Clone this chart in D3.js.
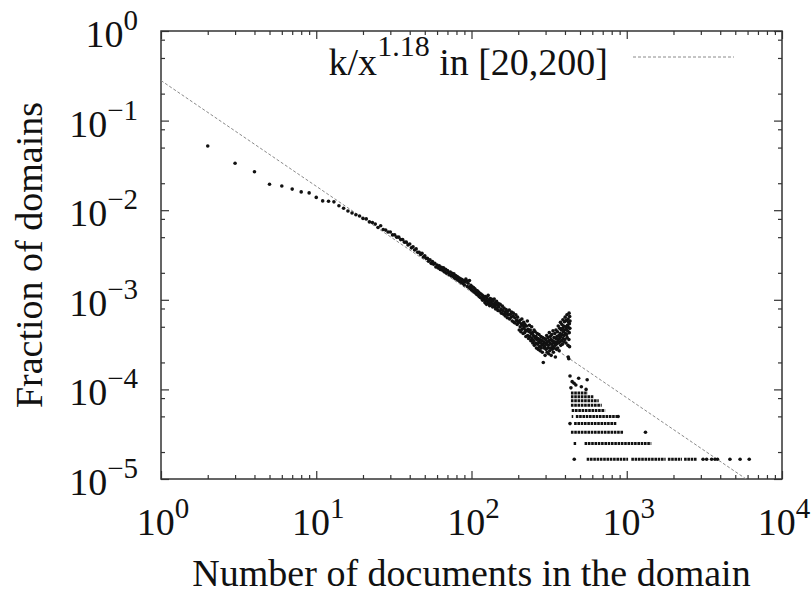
<!DOCTYPE html>
<html>
<head>
<meta charset="utf-8">
<script src="https://cdn.jsdelivr.net/npm/d3@7"></script>
<style>
  body { margin: 0; background: #fff; }
  text { font-family: "Liberation Serif", "Times New Roman", serif; fill: #111; }
</style>
</head>
<body>
<svg id="chart" width="812" height="597"></svg>
<script>
// values, y given as fraction of domains x 10^4
var per10k = 1e-4;

var earlyDocs = [2, 3, 4, 5, 6, 7, 8, 9, 10, 11, 12, 13];
var earlyFrac = [520, 334, 269, 195, 186, 172, 160, 156, 139, 127, 126, 124];

var bandLow = [[14,112],[15,105],[16,98],[17,93],[18,89],[19,86],[20,81],[21,80],[22,74],[23,73],[24,70],[25,64],[26,67],[27,61],[28,60],[29,57],[30,57],[31,53],[32,53],[33,50],[34,50],[35,47],[36,47],[37,44],[38,44],[39,41],[40,42],[41,38],[42,39],[43,36],[44,37],[45,34],[46,34],[47,32],[48,33],[49,30],[50,31],[51,29],[52,29],[53,27],[54,28]];

var bandMid = [[55,25.5],[56,26.8],[57,24.9],[58,25.6],[59,23.2],[60,24.4],[61,22.6],[62,23.9],[63,21.8],[64,23.1],[65,21.4],[66,22.8],[67,20.6],[68,21.9],[69,19.8],[70,21.2],[71,20.1],[72,19.0],[73,20.4],[74,18.6],[75,19.8],[76,18.2],[77,19.5],[78,17.4],[79,18.6],[80,17.1],[81,18.2],[82,16.5],[83,17.6],[84,16.0],[85,17.2],[86,15.6],[87,16.8],[88,15.2],[89,16.3],[90,14.6],[91,15.8],[92,17.0],[93,16.2],[94,14.1],[95,15.3],[96,13.8],[97,16.4],[98,13.4],[99,14.5],[100,12.9],[101,14.0],[102,12.6],[103,13.7],[104,12.2],[105,13.3],[106,11.9],[107,12.8],[108,11.5],[109,12.6],[110,11.3],[111,12.2],[112,10.9],[113,11.8],[114,10.6],[115,11.6],[116,10.4],[117,11.3],[118,9.9],[119,11.0],[120,10.1]];

var bandUpper = [[121,10.6],[122,9.3],[123,10.9],[124,9.8],[125,8.9],[126,10.4],[127,9.6],[128,11.2],[129,9.1],[130,9.9],[131,8.6],[132,10.3],[133,9.4],[134,8.8],[135,10.1],[136,9.0],[137,8.3],[138,9.7],[139,8.9],[140,10.2],[141,8.4],[142,9.2],[143,7.9],[144,8.8],[145,9.6],[146,8.1],[147,8.7],[148,7.6],[149,9.1],[150,8.3],[152,7.5],[153,8.9],[155,7.9],[156,7.1],[158,8.5],[159,7.6],[161,6.9],[162,8.1],[164,7.3],[165,6.6],[167,7.8],[168,7.0],[170,6.3],[171,7.4],[173,6.8],[175,7.7],[176,6.1],[178,6.9],[180,6.4],[181,7.3],[183,5.8],[185,6.6],[186,7.1],[188,5.6],[190,6.3],[191,5.5],[193,6.8],[195,5.9],[197,5.3],[198,6.4],[200,5.7]];

var bandKnee = [[202,5.6],[203,4.6],[205,5.9],[206,5.0],[208,4.4],[209,5.4],[211,6.1],[212,4.7],[214,5.2],[215,4.2],[217,5.6],[218,4.9],[220,4.3],[221,5.3],[223,4.6],[224,3.9],[226,5.1],[227,4.5],[229,5.8],[230,4.0],[232,4.7],[233,3.7],[235,4.4],[236,5.2],[238,3.9],[239,4.6],[241,3.5],[242,4.2],[244,5.0],[245,3.7],[247,4.3],[248,3.3],[250,4.0],[251,3.5],[253,4.6],[254,3.1],[256,3.8],[257,4.4],[259,3.3],[260,3.9],[262,2.9],[263,3.6],[265,4.2],[266,3.2],[268,3.7],[269,2.8],[271,3.4],[272,4.1],[274,3.0],[275,3.6],[277,2.7],[278,3.3],[280,3.9],[281,2.9],[283,3.5],[284,3.1],[286,2.6],[287,3.8],[289,3.2],[290,2.0],[292,3.4],[293,2.9],[295,3.7],[296,3.0],[298,2.4],[299,3.3]];

var bandBump = [[301,3.6],[302,2.8],[304,3.2],[305,4.0],[307,2.6],[308,3.4],[310,2.9],[311,3.8],[313,3.1],[314,2.5],[316,3.5],[317,4.3],[319,2.7],[320,3.3],[322,3.9],[323,2.9],[325,3.6],[326,2.4],[328,3.2],[329,4.1],[331,2.8],[332,3.5],[334,3.0],[335,4.5],[337,2.6],[338,3.3],[340,3.8],[341,2.9],[343,3.4],[344,4.2],[346,3.1],[347,2.3],[349,3.7],[350,4.6],[352,3.2],[353,2.8],[355,3.9],[356,3.4],[358,4.4],[359,2.9],[361,3.6],[362,5.1],[364,3.3],[365,4.0],[367,2.7],[368,3.7],[370,4.8],[371,3.4],[373,4.2],[374,5.6],[376,3.1],[377,3.9],[379,4.6],[380,3.5],[382,5.3],[383,4.1],[385,3.2],[386,4.8],[388,6.0],[389,3.7],[391,4.4],[392,5.1],[394,3.4],[395,4.0],[397,5.7],[398,4.6],[400,3.6],[401,6.4],[403,4.2],[404,5.0],[406,3.3],[407,4.7],[409,5.9],[410,4.1],[412,6.8],[413,3.8],[415,5.2],[416,4.5],[418,3.1],[419,6.1],[420,2.3],[421,4.9],[422,5.6],[423,2.2],[424,3.6],[425,7.1],[426,4.3],[427,5.4],[428,3.0],[429,6.5],[430,4.8],[431,5.8]];

// sparse points below the drop
var tailPoints = [[431,1.41],[490,1.33],[556,1.28],[445,1.22],[458,1.17],[470,1.12],[510,1.07],[437,1.04],[547,1.0],
  [459,0.166],[3100,0.166],[3270,0.166],[3520,0.166],[3700,0.166],[3840,0.166],[4620,0.166],[5370,0.166],[6150,0.166],
  [1320,0.332],[431,0.415],[880,0.498]];

// runs of consecutive counts sharing one level: [level, first, last]
var tailRuns = [[0.166,552,1020],[0.166,1070,1780],[0.166,1840,2270],[0.166,2340,2820],
  [0.249,455,472],[0.249,535,1440],
  [0.332,437,950],
  [0.415,458,860],
  [0.498,442,452],[0.498,470,890],
  [0.581,442,726],
  [0.664,437,690],
  [0.747,437,660],
  [0.830,437,610],
  [0.913,437,560]];

var fitK = 0.28;
var fitExp = 1.18;
var fitLabel = ["k/x", "1.18", " in [20,200]"];

var xTickExps = [0, 1, 2, 3, 4];
var yTickExps = [0, -1, -2, -3, -4, -5];
var xMinorSteps = [2, 3, 4, 5, 6, 7, 8, 9];
var yMinorSteps = [2, 5, 8];

var xTitle = "Number of documents in the domain";
var yTitle = "Fraction of domains";

var svg = d3.select('#chart');
var plotL = 161, plotR = 782, plotT = 31, plotB = 479;

var x = d3.scaleLog().domain([1, 1e4]).range([plotL, plotR]);
var y = d3.scaleLog().domain([1e-5, 1]).range([plotB, plotT]);

var xMajor = xTickExps.map(function(e) { return Math.pow(10, e) });
var yMajor = yTickExps.map(function(e) { return Math.pow(10, e) });
var xMinor = [], yMinor = [];
xTickExps.slice(0, -1).forEach(function(e) {
    xMinorSteps.forEach(function(m) { xMinor.push(m * Math.pow(10, e)) });
});
yTickExps.slice(1).forEach(function(e) {
    yMinorSteps.forEach(function(m) { yMinor.push(m * Math.pow(10, e)) });
});

var tickColor = '#333';
function tickAxis(axis, ty, tx) {
    var g = svg.append('g').attr('transform', 'translate(' + tx + ',' + ty + ')').call(axis);
    g.select('.domain').remove();
    g.selectAll('line').attr('stroke', tickColor).attr('stroke-width', 1.2);
    g.selectAll('text').remove();
}
[[xMajor, 8], [xMinor, 4]].forEach(function(p) {
    tickAxis(d3.axisBottom(x).tickValues(p[0]).tickSize(-p[1]), plotB, 0);
    tickAxis(d3.axisTop(x).tickValues(p[0]).tickSize(-p[1]), plotT, 0);
});
[[yMajor, 8], [yMinor, 4]].forEach(function(p) {
    tickAxis(d3.axisLeft(y).tickValues(p[0]).tickSize(-p[1]), 0, plotL);
    tickAxis(d3.axisRight(y).tickValues(p[0]).tickSize(-p[1]), 0, plotR);
});

svg.append('rect')
    .attr('x', plotL).attr('y', plotT)
    .attr('width', plotR - plotL).attr('height', plotB - plotT)
    .attr('fill', 'none').attr('stroke', tickColor).attr('stroke-width', 1.5);

function powerLabel(t, e) {
    t.append('tspan').text('10');
    t.append('tspan').attr('dy', -17).attr('font-size', 29).text(e < 0 ? '\u2212' + (-e) : e);
}

xTickExps.forEach(function(e) {
    var t = svg.append('text')
        .attr('x', x(Math.pow(10, e)) + 2).attr('y', 535)
        .attr('text-anchor', 'middle').attr('font-size', 38);
    powerLabel(t, e);
});
yTickExps.forEach(function(e) {
    var t = svg.append('text')
        .attr('x', 138).attr('y', y(Math.pow(10, e)) + 16)
        .attr('text-anchor', 'end').attr('font-size', 38);
    powerLabel(t, e);
});

svg.append('text')
    .attr('x', (plotL + plotR) / 2).attr('y', 586)
    .attr('text-anchor', 'middle').attr('font-size', 38)
    .text(xTitle);
svg.append('text')
    .attr('transform', 'translate(42,' + ((plotT + plotB) / 2) + ') rotate(-90)')
    .attr('text-anchor', 'middle').attr('font-size', 38)
    .text(yTitle);

// plot area clip
svg.append('clipPath').attr('id', 'plotClip')
    .append('rect').attr('x', plotL).attr('y', plotT)
    .attr('width', plotR - plotL).attr('height', plotB - plotT);
var plot = svg.append('g').attr('clip-path', 'url(#plotClip)');

// fit line
var fitLine = d3.line()
    .x(function(d) { return x(d) })
    .y(function(d) { return y(fitK / Math.pow(d, fitExp)) });
plot.append('path')
    .datum(xMajor)
    .attr('d', fitLine)
    .attr('fill', 'none').attr('stroke', '#8a8a8a')
    .attr('stroke-width', 1).attr('stroke-dasharray', '3,2');

// legend
var key = svg.append('text')
    .attr('x', 608).attr('y', 75)
    .attr('text-anchor', 'end').attr('font-size', 38);
key.append('tspan').text(fitLabel[0]);
key.append('tspan').attr('dy', -19).attr('font-size', 30).text(fitLabel[1]);
key.append('tspan').attr('dy', 19).attr('font-size', 38).text(fitLabel[2]);
svg.append('line')
    .attr('x1', 633).attr('x2', 734).attr('y1', 57).attr('y2', 57)
    .attr('stroke', '#8a8a8a').attr('stroke-width', 1).attr('stroke-dasharray', '3,2');

// points
var allPoints = earlyDocs.map(function(d, i) { return [d, earlyFrac[i]] })
    .concat(bandLow, bandMid, bandUpper, bandKnee, bandBump, tailPoints);

plot.selectAll('circle.pt')
    .data(allPoints)
    .enter()
    .append('circle')
    .attr('class', 'pt')
    .attr('cx', function(d) { return x(d[0]) })
    .attr('cy', function(d) { return y(d[1] * per10k) })
    .attr('r', 1.8)
    .attr('fill', '#111');

plot.selectAll('line.run')
    .data(tailRuns)
    .enter()
    .append('line')
    .attr('class', 'run')
    .attr('x1', function(d) { return x(d[1]) })
    .attr('x2', function(d) { return x(d[2]) })
    .attr('y1', function(d) { return y(d[0] * per10k) })
    .attr('y2', function(d) { return y(d[0] * per10k) })
    .attr('stroke', '#111').attr('stroke-width', 3)
    .attr('stroke-dasharray', '2.6,0.7');
</script>
</body>
</html>
